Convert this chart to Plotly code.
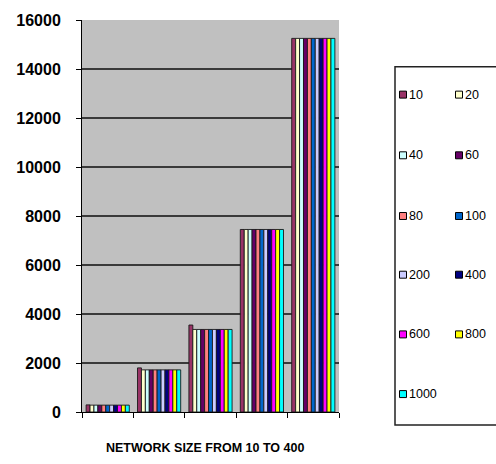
import plotly.graph_objects as go

# Network-size groups (unlabelled on the axis)
groups = ["G1", "G2", "G3", "G4", "G5"]

# Series names and per-group values
series_names = ["10", "20", "40", "60", "80", "100", "200", "400", "600", "800", "1000"]
s10 = [290, 1800, 3550, 7450, 15250]
s20 = [280, 1720, 3370, 7450, 15250]
s40 = [280, 1720, 3370, 7450, 15250]
s60 = [280, 1720, 3370, 7450, 15250]
s80 = [280, 1720, 3370, 7450, 15250]
s100 = [280, 1720, 3370, 7450, 15250]
s200 = [280, 1720, 3370, 7450, 15250]
s400 = [280, 1720, 3370, 7450, 15250]
s600 = [280, 1720, 3370, 7450, 15250]
s800 = [280, 1720, 3370, 7450, 15250]
s1000 = [280, 1720, 3370, 7450, 15250]
series_values = [s10, s20, s40, s60, s80, s100, s200, s400, s600, s800, s1000]

colors = ["#993366", "#FFFFCC", "#CCFFFF", "#660066", "#FF8080", "#0066CC",
          "#CCCCFF", "#000080", "#FF00FF", "#FFFF00", "#00FFFF"]

y_ticks = [0, 2000, 4000, 6000, 8000, 10000, 12000, 14000, 16000]

W, H = 496, 464
L, R, T, B = 82, 157, 18, 52

fig = go.Figure()
for name, vals, col in zip(series_names, series_values, colors):
    fig.add_trace(go.Bar(
        x=groups, y=vals, name=name,
        marker=dict(color=col, line=dict(color="#1a1a1a", width=0.9)),
        showlegend=False,
    ))

fig.update_layout(
    width=W, height=H,
    margin=dict(l=L, r=R, t=T, b=B, pad=0),
    paper_bgcolor="white",
    plot_bgcolor="#C0C0C0",
    barmode="group",
    bargap=0.16,
    bargroupgap=0,
    font=dict(family="Liberation Sans, Arial, sans-serif", color="black"),
)

fig.update_xaxes(
    showticklabels=False,
    ticks="outside", ticklen=5, tickcolor="black",
    tickson="boundaries",
    showline=True, linecolor="black", linewidth=1,
    showgrid=False,
)
fig.update_yaxes(
    range=[0, 16000],
    tickvals=y_ticks,
    ticktext=[str(v) for v in y_ticks],
    tickfont=dict(size=16, family="Liberation Sans, Arial, sans-serif", weight="bold"),
    ticks="outside", ticklen=5, tickcolor="black",
    ticklabelstandoff=12,
    showline=True, linecolor="black", linewidth=1,
    showgrid=True, gridcolor="#3a3a3a", gridwidth=1.6,
    zeroline=False,
)


# Pixel -> paper helpers
def px(x):
    return (x - L) / (W - L - R)


def py(y):
    return 1 - (y - T) / (H - T - B)


# Axis title
fig.add_annotation(
    x=px(205), y=py(448), xref="paper", yref="paper",
    text="<b>NETWORK SIZE FROM 10 TO 400</b>", showarrow=False,
    font=dict(size=12.5, family="Liberation Sans, Arial, sans-serif"),
    xanchor="center", yanchor="middle",
)

# Legend box
fig.add_shape(type="rect", xref="paper", yref="paper",
              x0=px(395), x1=px(505), y0=py(425), y1=py(65),
              line=dict(color="#222222", width=1.5), fillcolor="white", layer="below")

col_x = [403, 459]
row_y = [93, 154, 215, 274, 334, 394]
for i, (name, col) in enumerate(zip(series_names, colors)):
    r, c = divmod(i, 2)
    cx, cy = col_x[c], row_y[r]
    fig.add_shape(type="rect", xref="paper", yref="paper",
                  x0=px(cx - 3.5), x1=px(cx + 3.5), y0=py(cy + 3.5), y1=py(cy - 3.5),
                  line=dict(color="black", width=1), fillcolor=col)
    fig.add_annotation(x=px(cx + 4), y=py(cy), xref="paper", yref="paper",
                       text=name, showarrow=False, xanchor="left", yanchor="middle",
                       font=dict(size=12.5, family="Liberation Sans, Arial, sans-serif"))

fig.write_html("out.html")
